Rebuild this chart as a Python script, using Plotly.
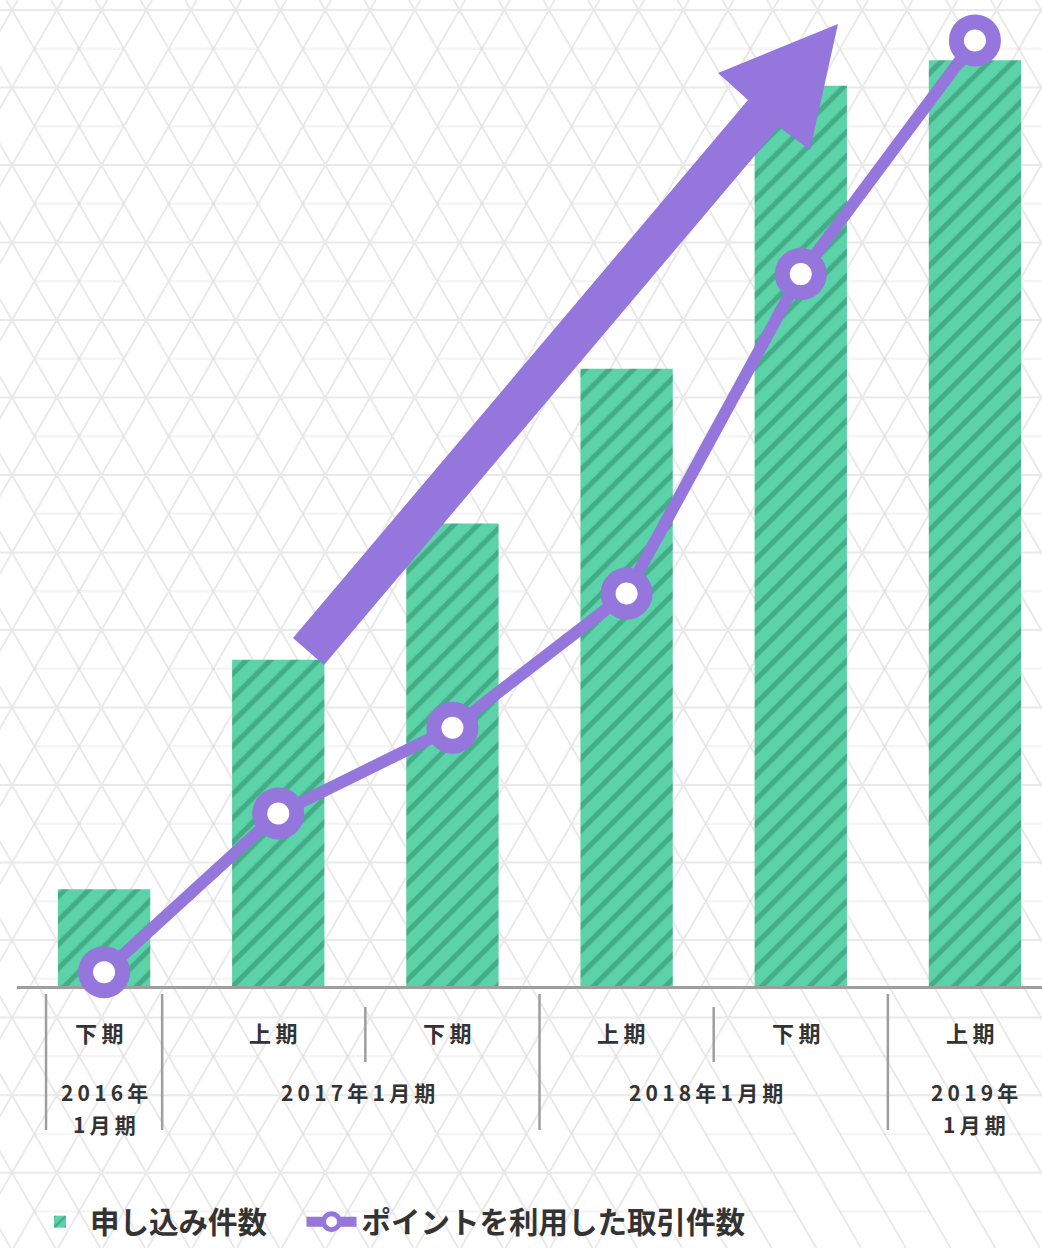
import math
import plotly.graph_objects as go

# ---------------- data ----------------
categories = ["下期", "上期", "下期", "上期", "下期", "上期"]
applications = [9.8, 33.1, 46.9, 62.6, 91.3, 93.9]          # 申し込み件数 (relative)
point_transactions = [1.4, 17.5, 26.2, 39.8, 72.2, 95.9]    # ポイントを利用した取引件数 (relative)
group_labels = ["2016年\n1月期", "2017年1月期", "2018年1月期", "2019年\n1月期"]
group_members = [[0], [1, 2], [3, 4], [5]]
series_names = ["申し込み件数", "ポイントを利用した取引件数"]

W, H = 1042, 1248
GREEN = "#5cd2a8"
HATCH = "#2b8565"
PURPLE = "#9476dc"
TEXT = "#333333"
FONT = "Noto Sans CJK JP"

def px(x):
    return x / W

def py(y):
    return 1 - y / H

def spaced(s):
    return "\u2009".join(list(s))

x = list(range(len(categories)))

fig = go.Figure()
fig.add_trace(go.Bar(
    x=x, y=applications, name=series_names[0] + "\u3000", width=0.53,
    marker=dict(color=GREEN, line=dict(width=0),
                pattern=dict(shape="/", fgcolor=HATCH, bgcolor=GREEN, size=17, solidity=0.3)),
))
fig.add_trace(go.Scatter(
    x=x, y=point_transactions, name=series_names[1], mode="lines+markers",
    line=dict(color=PURPLE, width=12),
    marker=dict(size=37, color="white", line=dict(color=PURPLE, width=15)),
    cliponaxis=False,
))

shapes = []

# ---- background triangular / cube lattice ----
side = 44.75
hgt = side * math.sqrt(3) / 2
full_h, half_h, diag = [], [], []
k = 0
while True:
    yy = 10 + k * hgt
    if yy > H + 5:
        break
    if k % 2 == 0:
        full_h.append(f"M {px(0):.5f} {py(yy):.5f} L {px(W):.5f} {py(yy):.5f} ")
    else:
        j = -1
        while True:
            xa = 12 + side / 2 + side * j
            if xa > W:
                break
            if j % 3 != 2:
                half_h.append(f"M {px(xa):.5f} {py(yy):.5f} L {px(xa + side):.5f} {py(yy):.5f} ")
            j += 1
    k += 1
inv = 1 / math.sqrt(3)
for m in range(-30, 30):
    x0 = 12 + side * m
    for sgn in (1, -1):
        xa = x0 + sgn * (0 - 10) * inv
        xb = x0 + sgn * (H - 10) * inv
        diag.append(f"M {px(xa):.5f} {py(0):.5f} L {px(xb):.5f} {py(H):.5f} ")
shapes.append(dict(type="path", xref="paper", yref="paper", layer="below",
                   path="".join(full_h + diag), line=dict(color="rgba(0,0,0,0.085)", width=2)))
shapes.append(dict(type="path", xref="paper", yref="paper", layer="below",
                   path="".join(half_h), line=dict(color="rgba(0,0,0,0.04)", width=2.5)))

# ---- big growth arrow ----
arrow_pts = [(293, 638), (748, 100), (718, 73), (838, 24), (810, 150), (779, 127), (324, 665)]
arrow_path = "M " + " L ".join(f"{px(a):.5f} {py(b):.5f}" for a, b in arrow_pts) + " Z"
shapes.append(dict(type="path", xref="paper", yref="paper", layer="above",
                   path=arrow_path, fillcolor=PURPLE, line=dict(width=0)))

# ---- category separators ----
for xs in [-1/3, 1/3, 2.5, 4.5]:
    shapes.append(dict(type="line", xref="x", yref="paper", x0=xs, x1=xs,
                       y0=py(994), y1=py(1130), line=dict(color="#9e9e9e", width=2.5)))
for xs in [1.5, 3.5]:
    shapes.append(dict(type="line", xref="x", yref="paper", x0=xs, x1=xs,
                       y0=py(1007), y1=py(1062), line=dict(color="#9e9e9e", width=2.5)))

annotations = []
for i, c in enumerate(categories):
    annotations.append(dict(x=i - 0.03, y=py(1032), xref="x", yref="paper", text=spaced(c),
                            showarrow=False,
                            font=dict(family=FONT, size=22, color=TEXT, weight="bold"),
                            xanchor="center", yanchor="middle"))
for lab, mem in zip(group_labels, group_members):
    cx = sum(mem) / len(mem)
    lines = lab.split("\n")
    shift = -0.045 if len(lines) == 1 else 0
    for j, ln in enumerate(lines):
        annotations.append(dict(x=cx + shift, y=py(1092 + 32 * j), xref="x", yref="paper",
                                text=spaced(ln), showarrow=False,
                                font=dict(family=FONT, size=21, color=TEXT, weight="bold"),
                                xanchor="center", yanchor="middle"))

fig.update_layout(
    width=W, height=H, autosize=False,
    margin=dict(l=0, r=0, t=0, b=0, pad=0),
    paper_bgcolor="white", plot_bgcolor="rgba(0,0,0,0)",
    xaxis=dict(domain=[px(17), 1], range=[-0.5, 5.385], showgrid=False, zeroline=False,
               showticklabels=False, ticks="", showline=True, linecolor="#9e9e9e",
               linewidth=3, layer="below traces", fixedrange=True),
    yaxis=dict(domain=[py(986), 1], range=[0, 100], visible=False, showgrid=False,
               zeroline=False, fixedrange=True),
    showlegend=True,
    legend=dict(orientation="h", x=px(30), xanchor="left", y=0, yanchor="bottom",
                font=dict(family=FONT, size=29.5, color=TEXT, weight="bold"),
                bgcolor="rgba(0,0,0,0)", itemwidth=50, traceorder="normal"),
    shapes=shapes, annotations=annotations,
)

fig.write_html("out.html")
